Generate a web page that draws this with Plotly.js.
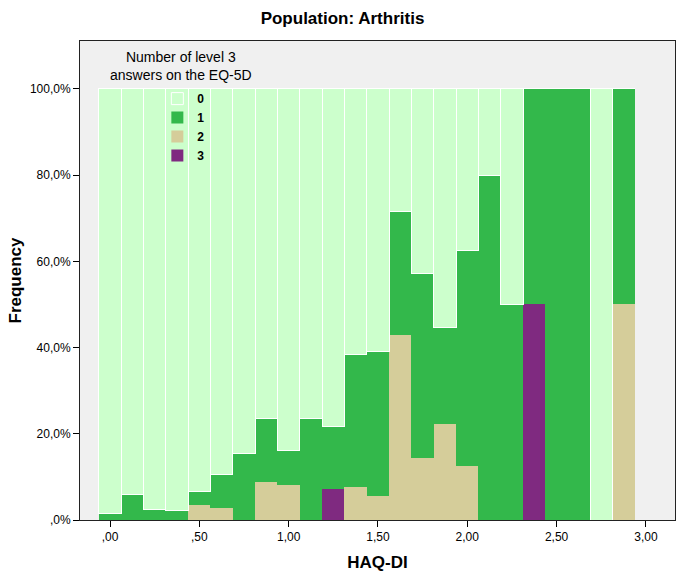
<!DOCTYPE html>
<html>
<head>
<meta charset="utf-8">
<script src="https://cdn.plot.ly/plotly-3.0.1.min.js"></script>
<style>html,body{margin:0;padding:0;background:#fff;}#chart{width:685px;height:577px;}</style>
</head>
<body>
<div id="chart"></div>
<script>
// HAQ-DI bin centres (bin width 0.125)
var haqBins = [0, 0.125, 0.25, 0.375, 0.5, 0.625, 0.75, 0.875, 1.0, 1.125, 1.25, 1.375,
               1.5, 1.625, 1.75, 1.875, 2.0, 2.125, 2.25, 2.375, 2.5, 2.625, 2.75, 2.875];
// Percentage of respondents per bin by number of level-3 answers on the EQ-5D
var level0 = [98.6, 94.0, 97.5, 97.7, 93.3, 89.4, 84.6, 76.4, 83.9, 76.4, 78.4, 61.5,
              61.0, 28.5, 42.8, 55.4, 37.4, 20.0, 50.0, 0, 0, 0, 100, 0];
var level1 = [1.4, 6.0, 2.5, 2.3, 3.3, 7.9, 15.4, 14.7, 8.0, 23.6, 14.4, 30.8,
              33.4, 28.6, 42.8, 22.3, 50.0, 80.0, 50.0, 50.0, 100, 100, 0, 50.0];
var level2 = [0, 0, 0, 0, 3.4, 2.7, 0, 8.9, 8.1, 0, 0, 7.7,
              5.6, 42.9, 14.4, 22.3, 12.6, 0, 0, 0, 0, 0, 0, 50.0];
var level3 = [0, 0, 0, 0, 0, 0, 0, 0, 0, 0, 7.2, 0,
              0, 0, 0, 0, 0, 0, 0, 50.0, 0, 0, 0, 0];
var seriesNames = ['0', '1', '2', '3'];
var xTickVals = [0, 0.5, 1.0, 1.5, 2.0, 2.5, 3.0];
var xTickText = [',00', ',50', '1,00', '1,50', '2,00', '2,50', '3,00'];
var yTickVals = [0, 20, 40, 60, 80, 100];
var yTickText = [',0%', '20,0%', '40,0%', '60,0%', '80,0%', '100,0%'];

var colors = {'0': '#ccffcc', '1': '#33b84b', '2': '#d5cd9a', '3': '#7f2a80'};
var FONT = 'Liberation Sans, Arial, Helvetica, sans-serif';

function barTrace(name, vals, lineColor, lineWidth) {
  return {
    type: 'bar', name: '<b>' + name + '</b>', x: haqBins, y: vals, width: 0.125,
    marker: {color: colors[name], line: {color: lineColor, width: lineWidth}},
    hoverinfo: 'skip'
  };
}

var data = [
  barTrace(seriesNames[3], level3, colors['3'], 0),
  barTrace(seriesNames[2], level2, colors['2'], 0),
  barTrace(seriesNames[1], level1, colors['1'], 0),
  barTrace(seriesNames[0], level0, '#ffffff', 1)
];

var layout = {
  width: 685, height: 577,
  margin: {l: 80, r: 10, t: 41, b: 57},
  paper_bgcolor: '#ffffff', plot_bgcolor: '#f0f0f0',
  barmode: 'stack', bargap: 0,
  separators: ',.',
  font: {family: FONT, color: '#000', size: 12},
  title: {text: '<b>Population: Arthritis</b>', x: 0.5, xref: 'container', y: 0.969, yanchor: 'middle',
          font: {family: FONT, size: 17, color: '#000'}},
  xaxis: {
    range: [-0.168, 3.163], tickvals: xTickVals, ticktext: xTickText,
    ticks: 'outside', ticklen: 6, tickcolor: '#000', tickwidth: 1,
    showline: true, linecolor: '#222', linewidth: 1, mirror: true,
    showgrid: false, zeroline: false,
    tickfont: {family: FONT, size: 12, color: '#000'},
    title: {text: '<b>HAQ-DI</b>', font: {family: FONT, size: 17, color: '#000'}, standoff: 12}
  },
  yaxis: {
    range: [0, 111.1], tickvals: yTickVals, ticktext: yTickText,
    ticks: 'outside', ticklen: 6, tickcolor: '#000', tickwidth: 1,
    showline: true, linecolor: '#222', linewidth: 1, mirror: true,
    showgrid: false, zeroline: false,
    tickfont: {family: FONT, size: 12, color: '#000'},
    title: {text: '<b>Frequency</b>', font: {family: FONT, size: 17, color: '#000'}, standoff: 3}
  },
  showlegend: true,
  legend: {
    x: 0.13, xanchor: 'left', y: 0.91, yanchor: 'top',
    bgcolor: 'rgba(0,0,0,0)', borderwidth: 0,
    traceorder: 'reversed',
    font: {family: FONT, size: 12, color: '#000'},
    itemclick: false, itemdoubleclick: false
  },
  annotations: [{
    text: 'Number of level 3<br>answers on the EQ-5D',
    xref: 'paper', yref: 'paper', x: 0.17, y: 0.987, xanchor: 'center', yanchor: 'top',
    showarrow: false, align: 'center',
    font: {family: FONT, size: 14, color: '#000'}
  }]
};

Plotly.newPlot('chart', data, layout, {displayModeBar: false, staticPlot: true});
</script>
</body>
</html>
